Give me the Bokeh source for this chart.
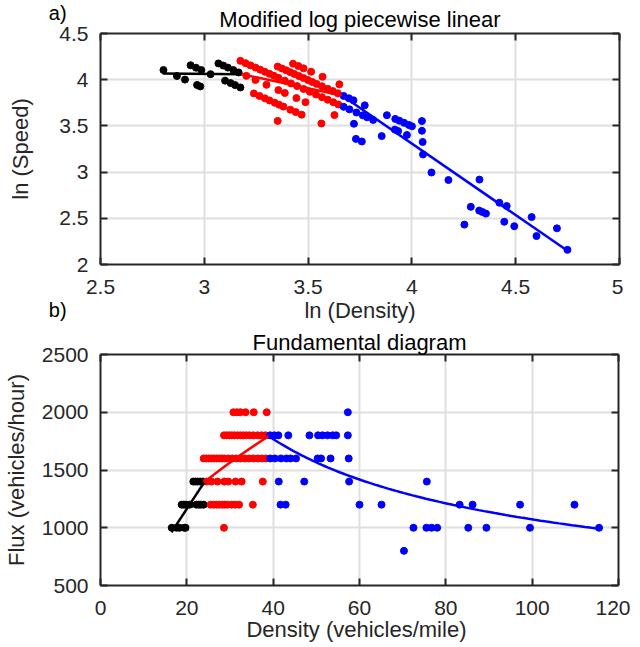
import numpy as np
from bokeh.plotting import figure
from bokeh.layouts import column
from bokeh.models import LinearAxis, FixedTicker, NumeralTickFormatter, Label, Range1d
from bokeh.embed import file_html
from bokeh.resources import INLINE

# ---- observations: density (vehicles/mile) and flux (vehicles/hour) ----
black_density = [16.5, 17.6, 18.3, 19.4, 19.7,
                 18.8, 19.3, 19.8, 20.7, 22.2, 22.8, 23.3, 23.9,
                 21.5, 22.0, 22.5, 23.1, 23.7]
black_flux = [1000, 1000, 1000, 1000, 1000,
              1200, 1200, 1200, 1200, 1200, 1200, 1200, 1200,
              1400, 1400, 1400, 1400, 1400]

red_density = [28.6,
               25.5, 26.2, 26.9, 27.5, 28.2, 28.8, 29.4, 30.4, 31.2, 32.1, 35.3,
               24.6, 25.7, 27.1, 28.7, 29.6, 31.3, 32.7, 37.6,
               23.9, 24.5, 25.1, 25.7, 26.3, 26.9, 27.5, 28.1, 28.7, 29.6,
               30.5, 31.4, 32.4, 33.4, 34.4, 35.4, 36.4, 37.4, 38.3,
               28.6, 29.2, 29.8, 30.4, 31.0, 31.7, 32.4, 33.1, 33.8, 34.5,
               35.4, 36.4, 37.3, 38.2,
               30.8, 31.6, 32.4, 33.6, 35.5, 38.5]
red_flux = [1000,
            1200, 1200, 1200, 1200, 1200, 1200, 1200, 1200, 1200, 1200, 1200,
            1400, 1400, 1400, 1400, 1400, 1400, 1400, 1400,
            1600, 1600, 1600, 1600, 1600, 1600, 1600, 1600, 1600, 1600,
            1600, 1600, 1600, 1600, 1600, 1600, 1600, 1600, 1600,
            1800, 1800, 1800, 1800, 1800, 1800, 1800, 1800, 1800, 1800,
            1800, 1800, 1800, 1800,
            2000, 2000, 2000, 2000, 2000, 2000]

blue_density = [70.3,
                72.5, 75.5, 76.7, 78.0, 85.2, 89.4, 99.5, 115.5,
                41.7, 42.9, 60.0, 65.1, 83.2, 86.2, 97.2, 109.8,
                41.3, 47.2, 57.6, 75.6,
                39.3, 40.4, 41.8, 43.1, 44.0, 45.3, 50.3, 51.1, 53.3, 57.5,
                39.3, 40.3, 41.2, 43.5, 48.4, 50.4, 51.4, 52.6, 53.8, 54.6, 57.3,
                57.3]
blue_flux = [800,
             1000, 1000, 1000, 1000, 1000, 1000, 1000, 1000,
             1200, 1200, 1200, 1200, 1200, 1200, 1200, 1200,
             1400, 1400, 1400, 1400,
             1600, 1600, 1600, 1600, 1600, 1600, 1600, 1600, 1600, 1600,
             1800, 1800, 1800, 1800, 1800, 1800, 1800, 1800, 1800, 1800, 1800,
             2000]

# piecewise linear fit in log space (breakpoints)
fit_ln_density = [2.80, 3.18, 3.663, 4.748]
fit_ln_speed = [4.068, 4.060, 3.829, 2.152]
fit_colors = ["#000000", "#ff0000", "#0000ff"]

top_xticks = [2.5, 3, 3.5, 4, 4.5, 5]
top_yticks = [2, 2.5, 3, 3.5, 4, 4.5]
bot_xticks = [0, 20, 40, 60, 80, 100, 120]
bot_yticks = [500, 1000, 1500, 2000, 2500]

FONT = "Liberation Sans"
TXT = "#262626"
GRID = "#dfdfdf"


def style(p, xticks, yticks, xfmt, yfmt, xlabel, ylabel, ylab_standoff, xlab_standoff, title_standoff):
    xt = FixedTicker(ticks=xticks)
    yt = FixedTicker(ticks=yticks)
    bx = p.below[0]
    ly = p.left[0]
    bx.ticker = xt
    ly.ticker = yt
    bx.formatter = NumeralTickFormatter(format=xfmt)
    ly.formatter = NumeralTickFormatter(format=yfmt)
    bx.axis_label = xlabel
    ly.axis_label = ylabel
    tx = LinearAxis(ticker=xt)
    ry = LinearAxis(ticker=yt)
    p.add_layout(tx, "above")
    p.add_layout(ry, "right")
    for ax in (bx, ly, tx, ry):
        ax.axis_line_color = TXT
        ax.axis_line_width = 2
        ax.major_tick_line_color = TXT
        ax.major_tick_line_width = 2
        ax.major_tick_in = 7
        ax.major_tick_out = 0
        ax.minor_tick_line_color = None
        ax.major_label_text_font = FONT
        ax.major_label_text_color = TXT
        ax.major_label_text_font_size = "21px"
        ax.axis_label_text_font = FONT
        ax.axis_label_text_color = TXT
        ax.axis_label_text_font_style = "normal"
        ax.axis_label_text_font_size = "22px"
    for ax in (tx, ry):
        ax.major_label_text_color = None
        ax.major_label_standoff = 0
    bx.major_label_standoff = 15
    ly.major_label_standoff = 12
    bx.axis_label_standoff = xlab_standoff
    ly.axis_label_standoff = ylab_standoff
    p.xgrid.ticker = xt
    p.ygrid.ticker = yt
    p.grid.grid_line_color = GRID
    p.grid.grid_line_width = 2
    p.outline_line_color = None
    p.background_fill_color = "white"
    p.border_fill_color = "white"
    p.title.text_font = FONT
    p.title.text_font_size = "22px"
    p.title.text_font_style = "normal"
    p.title.text_color = "#000000"
    p.title.align = "center"
    p.title.standoff = title_standoff


# ---------------- top panel ----------------
p1 = figure(frame_width=519, frame_height=231, min_border_left=93, min_border_right=11,
            min_border_top=33, min_border_bottom=63,
            x_range=Range1d(2.5, 5), y_range=Range1d(2, 4.5),
            title="Modified log piecewise linear",
            output_backend="svg", toolbar_location=None)
style(p1, top_xticks, top_yticks, "0.[0]", "0.[0]", "ln (Density)", None, 0, 1, 3)

groups = [(black_density, black_flux, "#000000"),
          (red_density, red_flux, "#ff0000"),
          (blue_density, blue_flux, "#0000ff")]
for dens, flux, col in groups:
    d = np.array(dens, dtype=float)
    f = np.array(flux, dtype=float)
    p1.scatter(np.log(d), np.log(f / d), size=7, color=col)
for i in range(3):
    p1.line(fit_ln_density[i:i + 2], fit_ln_speed[i:i + 2], line_color=fit_colors[i], line_width=2.5)

# y-axis title of the top panel and the panel tags, placed in the left side panel
p1.add_layout(Label(x=2.1163, y=3.25, text="ln (Speed)", angle=np.pi / 2,
                    text_font=FONT, text_font_size="22px", text_color=TXT,
                    text_align="center", text_baseline="middle"), "left")
p1.add_layout(Label(x=2.2511, y=4.838, text="a)\nb)", text_font=FONT, text_font_size="20px",
                    text_color="#000000", text_align="left", text_baseline="top",
                    text_line_height=13.50), "left")

# ---------------- bottom panel ----------------
p2 = figure(frame_width=518, frame_height=231, min_border_left=93, min_border_right=12,
            min_border_top=27, min_border_bottom=56,
            x_range=Range1d(0, 120), y_range=Range1d(500, 2500),
            title="Fundamental diagram",
            output_backend="svg", toolbar_location=None)
style(p2, bot_xticks, bot_yticks, "0", "0", "Density  (vehicles/mile)", "Flux (vehicles/hour)", 10, -1, 0)

for dens, flux, col in groups:
    p2.scatter(dens, flux, size=7, color=col)
for i in range(3):
    lnd = np.linspace(fit_ln_density[i], fit_ln_density[i + 1], 80)
    lns = np.interp(lnd, fit_ln_density[i:i + 2], fit_ln_speed[i:i + 2])
    p2.line(np.exp(lnd), np.exp(lnd + lns), line_color=fit_colors[i], line_width=2.5)

layout = column(p1, p2)
open("out.html", "w").write(file_html(layout, INLINE))
